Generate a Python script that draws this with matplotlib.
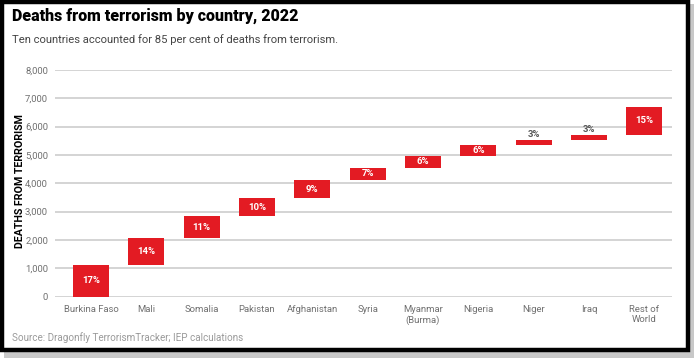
import matplotlib.pyplot as plt
from matplotlib.patches import Rectangle

countries = ['Burkina Faso', 'Mali', 'Somalia', 'Pakistan', 'Afghanistan', 'Syria',
             'Myanmar\n(Burma)', 'Nigeria', 'Niger', 'Iraq', 'Rest of\nWorld']
deaths = [1135, 944, 755, 643, 633, 447, 403, 387, 193, 174, 987]
shares = ['17%', '14%', '11%', '10%', '9%', '7%', '6%', '6%', '3%', '3%', '15%']
yticks = [0, 1000, 2000, 3000, 4000, 5000, 6000, 7000, 8000]

red = '#e31b23'
grey_txt = '#707070'

plt.rcParams['font.family'] = ['Roboto', 'DejaVu Sans']

fig = plt.figure(figsize=(7, 3.62), dpi=100)
W, H = 700, 362

# frame with shadow
fig.patches.append(Rectangle((4 / W, 1 - 358 / H), 690 / W, 354 / H, transform=fig.transFigure,
                             facecolor='#c8c8c8', edgecolor='none', zorder=0))
fig.patches.append(Rectangle((2 / W, 1 - 350 / H), 685.5 / W, 348.5 / H, transform=fig.transFigure,
                             facecolor='white', edgecolor='black', linewidth=3.2, zorder=1))

ax = fig.add_axes([55 / W, 1 - 296.7 / H, (672 - 55) / W, (296.7 - 70) / H])
ax.set_zorder(2)
ax.patch.set_visible(False)

# waterfall: each bar starts where the previous one ended
bottoms = []
run = 0
for d in deaths:
    bottoms.append(run)
    run += d

x = range(len(countries))
ax.bar(x, deaths, bottom=bottoms, width=0.65, color=red, zorder=3)

for i, (b, d, s) in enumerate(zip(bottoms, deaths, shares)):
    if d < 300:
        ax.text(i, b + d + 15, s, ha='center', va='bottom', fontsize=6.8,
                fontweight='bold', color='#555555', zorder=4)
    else:
        ax.text(i, b + d / 2, s, ha='center', va='center', fontsize=6.8,
                fontweight='bold', color='white', zorder=4)

ax.set_ylim(0, 8000)
ax.set_xlim(-0.65, 10.5)
ax.set_yticks(yticks)
ax.set_yticklabels([f'{v:,}' for v in yticks])
ax.set_xticks(list(x))
ax.set_xticklabels(countries)
ax.tick_params(axis='both', length=0, labelsize=6.8, labelcolor=grey_txt)
ax.tick_params(axis='y', pad=5)
ax.tick_params(axis='x', pad=6)
ax.grid(axis='y', color='#d4d4d4', linewidth=1.4, zorder=1)
for sp in ax.spines.values():
    sp.set_visible(False)

fig.text(20 / W, 1 - 181 / H, 'DEATHS FROM TERRORISM', rotation=90, ha='center', va='center',
         fontsize=7.7, fontweight='bold', color='black', zorder=5)

fig.text(12 / W, 1 - 16 / H, 'Deaths from terrorism by country, 2022',
         fontsize=11.5, fontweight='heavy', ha='left', va='center', color='black', zorder=5)
fig.text(12 / W, 1 - 40 / H, 'Ten countries accounted for 85 per cent of deaths from terrorism.',
         fontsize=8.1, ha='left', va='center', color='#444444', zorder=5)
fig.text(12 / W, 1 - 338 / H, 'Source: Dragonfly TerrorismTracker; IEP calculations',
         fontsize=7.1, ha='left', va='center', color='#9a9a9a', zorder=5)

fig.savefig('out.png', dpi=100)
